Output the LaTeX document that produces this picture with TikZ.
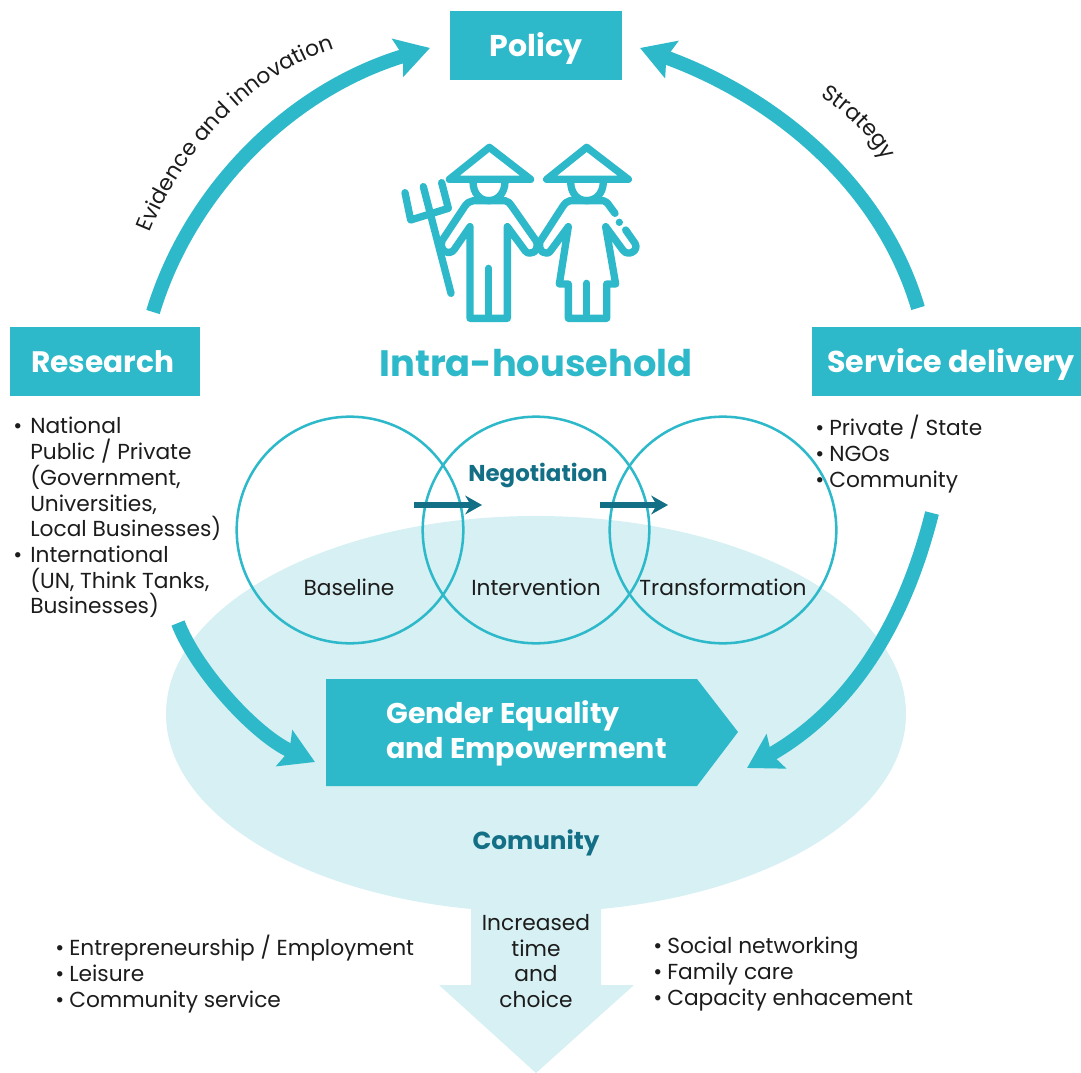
\documentclass[tikz,border=0pt]{standalone}
\usepackage{fontspec}
\setmainfont{Poppins}
\usetikzlibrary{arrows.meta,decorations.text}
\definecolor{teal}{HTML}{2DB9CA}
\definecolor{dark}{HTML}{136F85}
\definecolor{pale}{HTML}{D6F0F3}
\definecolor{ink}{HTML}{1C1C1C}
\newcommand{\itm}{\makebox[10.5pt][l]{•}}
\newcommand{\itmw}{\makebox[12.75pt][l]{•}}
\newcommand{\cnt}{\hspace*{12.75pt}}
\newcommand{\sizeof}[2]{\fontsize{#1}{#2}\selectfont}
\tikzset{
  x=0.75pt,y=-0.75pt,
  box/.style={fill=teal,text=white,inner sep=0pt,anchor=center,text height=23pt,text depth=5.8pt},
  bigarrow/.style={draw=teal,line width=10.5pt,-{Stealth[length=25pt,width=29pt,inset=4pt]}},
  smallarrow/.style={draw=dark,line width=4.5pt,-{Stealth[length=12.5pt,width=14pt,inset=4pt]}},
  ring/.style={draw=teal,line width=1.9pt,circle,minimum size=170pt,inner sep=0pt},
  body/.style={font=\sizeof{16.3}{19.5},text=ink,inner sep=0pt,align=left,anchor=north west},
  small/.style={font=\sizeof{16.3}{19.5},text=ink,inner sep=0pt,anchor=center},
  icon/.style={draw=teal,line width=5.5pt,line cap=round,line join=round},
  curvelabel/.style={decoration={text along path,text align=center,
     text={|\sizeof{16.4}{19}\color{ink}|#1}},decorate},
}
\begin{document}
\begin{tikzpicture}
\useasboundingbox (0,0) rectangle (1081,1073);
% pale shapes
\fill[pale] (536,714) ellipse [x radius=370,y radius=198];
\fill[pale] (471,900) -- (601,900) -- (601,985) -- (634,985) -- (536,1073) -- (439,985) -- (471,985) -- cycle;
% rings
\node[ring] (base) at (350,530) {};
\node[ring] (interv) at (536,530) {};
\node[ring] (transf) at (723,530) {};
\node[small] (tbase) at (349,587) {Baseline};
\node[small] (tint) at (536,587) {Intervention};
\node[small] (ttr) at (723,587) {Transformation};
\node[font=\sizeof{17.2}{20}\bfseries,text=dark,inner sep=0pt] (neg) at (538,475) {Negotiation};
\coordinate (a1s) at (414,505); \coordinate (a1e) at (482,505);
\coordinate (a2s) at (600,505); \coordinate (a2e) at (668,505);
\draw[smallarrow] (a1s) -- (a1e);
\draw[smallarrow] (a2s) -- (a2e);
% boxes
\node[box,minimum width=129pt,minimum height=51.75pt,text height=21pt,text depth=5.2pt,font=\sizeof{22.5}{26}\bfseries] (policy) at (536,45.5) {Policy};
\node[box,minimum width=142.5pt,minimum height=51.75pt,font=\sizeof{22.2}{26}\bfseries] (research) at (105,361.5) {\hspace*{-3.75pt}Research};
\node[box,minimum width=201.75pt,minimum height=51.75pt,font=\sizeof{22.6}{26}\bfseries] (service) at (946.5,361.5) {\hspace*{6.75pt}Service delivery};
\node[font=\sizeof{27.6}{32}\bfseries,text=teal,inner sep=0pt] (intra) at (536,363) {Intra-household};
% pentagon
\fill[teal] (326,679) -- (697,679) -- (738,732) -- (697,786) -- (326,786) -- cycle;
\node[font=\sizeof{21.4}{26.25}\bfseries,text=white,inner sep=0pt,align=left,anchor=west] (gender) at (386,733) {Gender Equality\\and Empowerment};
\node[font=\sizeof{18.5}{20}\bfseries,text=dark,inner sep=0pt] (comunity) at (536,843) {Comunity};
% big arrows
\coordinate (r1) at (153,312); \coordinate (p1) at (430,48);
\coordinate (s1) at (918,308); \coordinate (p2) at (640,48);
\coordinate (r2) at (178,623); \coordinate (g1) at (315,762);
\coordinate (s2) at (932,513); \coordinate (g2) at (747,768);
\draw[bigarrow] (r1) .. controls (190,190) and (290,90) .. (p1);
\draw[bigarrow] (s1) .. controls (880,180) and (770,95) .. (p2);
\draw[bigarrow] (r2) .. controls (196,670) and (255,735) .. (g1);
\draw[bigarrow] (s2) .. controls (900,640) and (840,715) .. (g2);
% curved labels
\path[curvelabel={Evidence and innovation}] (149,235) .. controls (182,150) and (252,75) .. (337,48);
\path[curvelabel={Strategy}] (818,95) .. controls (844,110) and (869,135) .. (886,163);
% lists
\node[body,font=\sizeof{16.3}{19.3}] (l1) at (13,417) {\itmw National\\\cnt Public / Private\\\cnt (Government,\\\cnt Universities,\\\cnt Local Businesses)\\\itmw International\\\cnt (UN, Think Tanks,\\\cnt Businesses)};
\node[body] (l2) at (815,415) {\itm Private / State\\\itm NGOs\\\itm Community};
\node[body] (l3) at (55,935) {\itm Entrepreneurship / Employment\\\itm Leisure\\\itm Community service};
\node[body] (l4) at (653,937) {\itm Social networking\\\itm Family care\\\itm Capacity enhacement};
\node[body,align=center,anchor=north,font=\sizeof{16.3}{19.3}] (l5) at (536,914) {Increased\\time\\and\\choice};
% icon
\begin{scope}[shift={(390,130)},x=0.25pt,y=-0.25pt]
 \draw[icon] (298,52) -- (178,148) -- (422,148) -- cycle;
 \draw[icon] (590,52) -- (470,148) -- (715,148) -- cycle;
 \draw[icon] (249,155) .. controls (249,190) and (270,212) .. (296,212) .. controls (322,212) and (345,190) .. (345,155);
 \draw[icon] (542,155) .. controls (542,190) and (563,212) .. (590,212) .. controls (617,212) and (640,190) .. (640,155);
 % man
 \draw[icon] (250,212) -- (345,212) .. controls (355,214) and (360,220) .. (365,228) -- (440,335) .. controls (448,365) and (420,380) .. (405,362) -- (352,290) -- (352,565) -- (240,565) -- (240,290) -- (193,358) .. controls (180,378) and (146,365) .. (156,332) -- (225,228) .. controls (232,218) and (240,214) .. (250,212);
 \draw[icon] (296,415) -- (296,565);
 % woman
 \draw[icon] (675,250) -- (660,230) .. controls (652,218) and (648,214) .. (640,212) -- (540,212) .. controls (530,214) and (525,220) .. (518,230) -- (450,335) .. controls (442,365) and (470,380) .. (482,362) -- (535,290) -- (508,462) -- (535,462) -- (535,565) -- (650,565) -- (650,462) -- (677,462) -- (647,290) -- (700,362) .. controls (715,380) and (748,362) .. (735,340) -- (707,300);
 \draw[icon] (590,460) -- (590,565);
 \fill[teal] (688,277) circle [radius=11];
 % fork
 \draw[icon] (100,170) -- (183,490);
 \draw[icon] (45,188) -- (62,270) -- (175,235) -- (155,158);
\end{scope}
\end{tikzpicture}
\end{document}
